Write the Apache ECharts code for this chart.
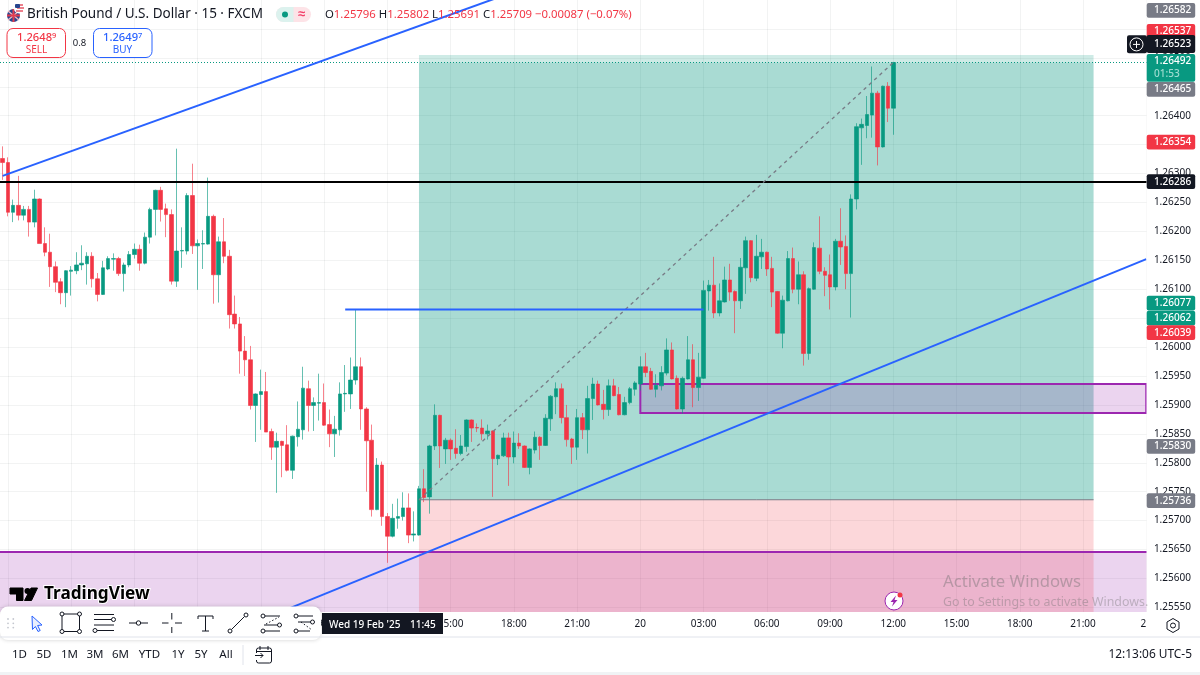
<!DOCTYPE html>
<html>
<head>
<meta charset="utf-8">
<title>GBPUSD 15</title>
<style>html,body{margin:0;padding:0;background:#fff}#chart{width:1200px;height:675px}</style>
<script src="https://cdn.jsdelivr.net/npm/echarts@6/dist/echarts.min.js"></script>
</head>
<body>
<div id="chart"></div>
<script>
// candles: [open, close, low, high], 15 minute bars from 18 Feb 17:45
var candles = [
[1.26326,1.26319,1.26289,1.26347],[1.26319,1.26233,1.26226,1.26328],[1.26233,1.26245,1.26216,1.26255],[1.26245,1.26228,1.26219,1.26296],
[1.26228,1.26238,1.26219,1.26244],[1.26238,1.26216,1.26191,1.26244],[1.26216,1.26256,1.26207,1.26272],[1.26256,1.26179,1.26179,1.26257],
[1.26179,1.26164,1.26157,1.26207],[1.26164,1.26139,1.26104,1.26196],[1.26139,1.26112,1.26095,1.26148],[1.26113,1.26094,1.26074,1.26119],
[1.26094,1.26132,1.26069,1.26133],[1.26131,1.26133,1.26089,1.26140],[1.26132,1.26142,1.26126,1.26164],[1.26142,1.26145,1.26133,1.26176],
[1.26144,1.26157,1.26108,1.26164],[1.26157,1.26118,1.26103,1.26164],[1.26118,1.26091,1.26079,1.26128],[1.26091,1.26137,1.26090,1.26149],
[1.26135,1.26153,1.26133,1.26157],[1.26152,1.26153,1.26132,1.26162],[1.26153,1.26127,1.26123,1.26156],[1.26127,1.26142,1.26096,1.26146],
[1.26142,1.26160,1.26138,1.26166],[1.26160,1.26169,1.26153,1.26179],[1.26169,1.26145,1.26132,1.26177],[1.26145,1.26190,1.26143,1.26198],
[1.26190,1.26238,1.26179,1.26241],[1.26238,1.26271,1.26193,1.26272],[1.26271,1.26238,1.26217,1.26277],[1.26239,1.26229,1.26190,1.26248],
[1.26229,1.26114,1.26108,1.26238],[1.26114,1.26166,1.26104,1.26343],[1.26166,1.26167,1.26137,1.26207],[1.26166,1.26262,1.26160,1.26266],
[1.26262,1.26175,1.26161,1.26317],[1.26175,1.26179,1.26099,1.26186],[1.26178,1.26179,1.26135,1.26202],[1.26178,1.26226,1.26177,1.26293],
[1.26226,1.26125,1.26075,1.26229],[1.26125,1.26182,1.26077,1.26191],[1.26182,1.26157,1.26145,1.26223],[1.26157,1.26056,1.26032,1.26168],
[1.26057,1.26040,1.26032,1.26089],[1.26040,1.25993,1.25954,1.26052],[1.25993,1.25978,1.25950,1.26019],[1.25978,1.25899,1.25892,1.26002],
[1.25899,1.25919,1.25836,1.25920],[1.25918,1.25923,1.25857,1.25961],[1.25923,1.25853,1.25853,1.25957],[1.25854,1.25827,1.25805,1.25859],
[1.25827,1.25837,1.25748,1.25852],[1.25837,1.25830,1.25775,1.25838],[1.25831,1.25787,1.25785,1.25865],[1.25787,1.25846,1.25772,1.25847],
[1.25845,1.25858,1.25828,1.25906],[1.25857,1.25929,1.25840,1.25966],[1.25928,1.25899,1.25854,1.25942],[1.25899,1.25904,1.25855,1.25913],
[1.25903,1.25904,1.25873,1.25954],[1.25904,1.25865,1.25864,1.25937],[1.25866,1.25850,1.25827,1.25892],[1.25850,1.25858,1.25810,1.25881],
[1.25857,1.25919,1.25847,1.25939],[1.25919,1.25920,1.25888,1.25969],[1.25919,1.25943,1.25893,1.25982],[1.25943,1.25966,1.25935,1.26064],
[1.25966,1.25893,1.25857,1.25982],[1.25893,1.25838,1.25750,1.25896],[1.25839,1.25719,1.25707,1.25866],[1.25719,1.25796,1.25718,1.25808],
[1.25796,1.25707,1.25691,1.25802],[1.25707,1.25673,1.25627,1.25713],[1.25673,1.25704,1.25671,1.25729],[1.25704,1.25707,1.25686,1.25738],
[1.25707,1.25722,1.25700,1.25749],[1.25722,1.25675,1.25661,1.25747],[1.25675,1.25677,1.25664,1.25716],[1.25675,1.25755,1.25674,1.25760],
[1.25755,1.25740,1.25732,1.25789],[1.25741,1.25829,1.25712,1.25831],[1.25829,1.25882,1.25822,1.25901],[1.25882,1.25829,1.25791,1.25883],
[1.25824,1.25839,1.25798,1.25843],[1.25839,1.25824,1.25805,1.25842],[1.25825,1.25816,1.25807,1.25858],[1.25816,1.25829,1.25813,1.25848],
[1.25828,1.25874,1.25819,1.25875],[1.25874,1.25860,1.25836,1.25875],[1.25861,1.25860,1.25853,1.25868],[1.25860,1.25850,1.25839,1.25875],
[1.25850,1.25855,1.25840,1.25866],[1.25855,1.25807,1.25741,1.25856],[1.25807,1.25813,1.25796,1.25814],[1.25812,1.25843,1.25810,1.25852],
[1.25843,1.25810,1.25760,1.25852],[1.25810,1.25834,1.25799,1.25854],[1.25834,1.25829,1.25824,1.25851],[1.25829,1.25792,1.25791,1.25830],
[1.25792,1.25824,1.25780,1.25825],[1.25822,1.25844,1.25816,1.25854],[1.25844,1.25830,1.25805,1.25846],[1.25830,1.25877,1.25829,1.25884],
[1.25876,1.25915,1.25855,1.25917],[1.25914,1.25928,1.25884,1.25939],[1.25928,1.25878,1.25868,1.25937],[1.25878,1.25840,1.25828,1.25900],
[1.25841,1.25827,1.25798,1.25843],[1.25827,1.25878,1.25805,1.25893],[1.25878,1.25857,1.25841,1.25886],[1.25857,1.25911,1.25816,1.25933],
[1.25911,1.25936,1.25874,1.25947],[1.25936,1.25900,1.25899,1.25942],[1.25901,1.25892,1.25875,1.25926],[1.25892,1.25933,1.25881,1.25944],
[1.25933,1.25916,1.25915,1.25945],[1.25918,1.25883,1.25882,1.25931],[1.25883,1.25904,1.25882,1.25914],[1.25904,1.25928,1.25901,1.25931],
[1.25927,1.25938,1.25916,1.25941],[1.25936,1.25966,1.25925,1.25984],[1.25966,1.25956,1.25948,1.25990],[1.25958,1.25927,1.25926,1.25964],
[1.25927,1.25934,1.25913,1.25953],[1.25933,1.25956,1.25925,1.25967],[1.25955,1.25995,1.25951,1.26015],[1.25995,1.25945,1.25944,1.26008],
[1.25946,1.25893,1.25892,1.25951],[1.25893,1.25946,1.25885,1.25949],[1.25945,1.25978,1.25944,1.26019],[1.25978,1.25930,1.25896,1.26005],
[1.25930,1.25948,1.25907,1.25990],[1.25946,1.26098,1.25945,1.26115],[1.26097,1.26107,1.26063,1.26116],[1.26107,1.26059,1.26050,1.26156],
[1.26059,1.26080,1.26053,1.26110],[1.26078,1.26116,1.26077,1.26139],[1.26116,1.26095,1.26080,1.26144],[1.26096,1.26080,1.26024,1.26098],
[1.26080,1.26138,1.26066,1.26154],[1.26137,1.26184,1.26092,1.26191],[1.26184,1.26120,1.26112,1.26185],[1.26119,1.26157,1.26114,1.26194],
[1.26156,1.26164,1.26135,1.26187],[1.26164,1.26135,1.26123,1.26165],[1.26136,1.26095,1.26069,1.26156],[1.26096,1.26024,1.26023,1.26097],
[1.26024,1.26081,1.25998,1.26089],[1.26080,1.26153,1.26079,1.26166],[1.26153,1.26100,1.26093,1.26172],[1.26100,1.26125,1.26074,1.26148],
[1.26125,1.25989,1.25968,1.26131],[1.25989,1.26101,1.25978,1.26103],[1.26100,1.26172,1.26099,1.26181],[1.26171,1.26131,1.26126,1.26226],
[1.26131,1.26124,1.26088,1.26138],[1.26125,1.26104,1.26065,1.26160],[1.26104,1.26183,1.26098,1.26187],[1.26183,1.26173,1.26142,1.26240],
[1.26174,1.26127,1.26100,1.26193],[1.26127,1.26256,1.26051,1.26264],[1.26256,1.26381,1.26238,1.26387],[1.26379,1.26385,1.26315,1.26395],
[1.26383,1.26402,1.26361,1.26434],[1.26401,1.26439,1.26362,1.26485],[1.26439,1.26346,1.26314,1.26443],[1.26346,1.26451,1.26345,1.26452],
[1.26451,1.26413,1.26389,1.26458],[1.26413,1.26492,1.26367,1.26493]
];

// price ticks on the right scale
var priceTicks = [1.2555,1.2560,1.2565,1.2570,1.2575,1.2580,1.2585,1.2590,1.2595,1.2600,1.2605,1.2610,1.2615,1.2620,1.2625,1.2630,1.2635,1.2640,1.2645,1.2650,1.2655];

// time scale: one slot per 15 minutes, 218 slots on screen
var slotCount = 218;
var firstDay = 18, firstHour = 17, firstMinute = 45;
var timeSlots = [];
for (var s = 0; s < slotCount; s++) {
    var mins = firstHour * 60 + firstMinute + s * 15;
    timeSlots.push({day: firstDay + Math.floor(mins / 1440), hour: Math.floor(mins / 60) % 24, minute: mins % 60});
}
var categories = timeSlots.map(function (t, i) { return String(i); });

// drawings (prices)
var supportPrice = 1.26286;
var lastPrice = 1.26492;
var targetPrice = 1.26505, entryPrice = 1.25736, stopPrice = 1.25542;
var positionStart = 79, positionEnd = 207;
var lowZoneTop = 1.25647;
var boxTop = 1.25936, boxBottom = 1.25886, boxStart = 121;
var upperTrend = [[0, 1.26296], [100, 1.26624]];
var lowerTrend = [[53, 1.25543], [217, 1.26152]];
var swingLine = [[65, 1.26065], [133, 1.26065]];
var progressLine = [[79, 1.25736], [169, 1.26492]];

// price tags on the scale
var tagTexts = ['1.26582','1.26537','1.26523','1.26492','1.26465','1.26354','1.26286','1.26077','1.26062','1.26039','1.25830','1.25736'];
var tagKinds = ['gray','red','black','green','gray','red','black','green','green','red','gray','gray'];
var tagTops = [3,24,35,54,82,134.7,174.3,295.7,310.7,325.3,439,493.3];

// header and footer text
var rangeButtons = ['1D','5D','1M','3M','6M','YTD','1Y','5Y','All'];
var rangeCenters = [19.5,44,69.5,95,120.5,149.5,178,201,226];

var UI_FONT = '"Noto Sans", sans-serif';
var DARK = '#131722', GREEN = '#089981', RED = '#f23645', BLUE = '#2962ff', PURPLE = '#9c27b0';
var tagColors = {gray: '#787b86', red: RED, black: DARK, green: GREEN};

function txt(text, x, y, size, fill, align, weight) {
    return {type: 'text', z: 120, silent: true, style: {
        text: text, x: x, y: y, fill: fill || DARK, align: align || 'left', verticalAlign: 'middle',
        font: (weight || 'normal') + ' ' + size + 'px ' + UI_FONT}};
}
function ln(x1, y1, x2, y2, color, width, dash) {
    return {type: 'line', z: 120, silent: true, shape: {x1: x1, y1: y1, x2: x2, y2: y2},
        style: {stroke: color || DARK, lineWidth: width || 1, lineDash: dash}};
}
function dot(x, y, r, fill, stroke) {
    return {type: 'circle', z: 121, silent: true, shape: {cx: x, cy: y, r: r},
        style: {fill: fill || '#fff', stroke: stroke === undefined ? DARK : stroke, lineWidth: 1}};
}
function box(x, y, w, h, r, fill, stroke, extra) {
    return {type: 'rect', z: (extra && extra.z) || 110, silent: true, shape: {x: x, y: y, width: w, height: h, r: r},
        style: Object.assign({fill: fill, stroke: stroke, lineWidth: 1}, extra && extra.style)};
}
function poly(points, fill, stroke) {
    return {type: 'polygon', z: 121, silent: true, shape: {points: points}, style: {fill: fill, stroke: stroke, lineWidth: 1}};
}

var graphics = [];
// price scale edge, hides the end of the grid
graphics.push(box(1146.5, 0, 5, 612, 0, '#fff', null, {z: 100}));
graphics.push(box(1146.5, 612, 54, 24, 0, '#fff', null, {z: 100}));

// tags
tagTexts.forEach(function (t, i) {
    var h = t === '1.26492' ? 27.7 : 14.8;
    if (tagKinds[i] === 'black') h = i === 2 ? 18 : 14.8;
    graphics.push(box(1146.7, tagTops[i], 48.5, h, 2, tagColors[tagKinds[i]], null));
    var cy = i === 3 ? tagTops[i] + 7.5 : (i === 2 ? tagTops[i] + 9.5 : tagTops[i] + 7.5);
    graphics.push(txt(t, 1154, cy, 10.1, '#fff', 'left', '500'));
});
graphics.push(txt('01:53', 1154, 74, 10.1, '#9edcd0', 'left', '500'));
graphics.push(box(1127, 35.3, 20, 18, 2, DARK, null));
graphics.push(dot(1136.5, 44.4, 6.5, 'none', '#fff'));
graphics.push(ln(1133, 44.4, 1140, 44.4, '#fff', 1), ln(1136.5, 41, 1136.5, 48, '#fff', 1));

// header
graphics.push({type: 'circle', z: 120, silent: true, shape: {cx: 13.5, cy: 15.5, r: 6.5}, style: {fill: '#27468f'}});
graphics.push(ln(8, 11, 19, 20, '#f4b6bd', 1.5), ln(8, 20, 19, 11, '#f4b6bd', 1.5), ln(7, 15.5, 20, 15.5, '#e23b4e', 2), ln(13.5, 9, 13.5, 22, '#e23b4e', 2));
graphics.push({type: 'circle', z: 120, silent: true, shape: {cx: 19, cy: 8.5, r: 5}, style: {fill: '#fff'}});
graphics.push(ln(16, 5, 23, 5, '#e23b4e', 1.3), ln(17, 8, 24, 8, '#e23b4e', 1.3), ln(16, 11, 23, 11, '#e23b4e', 1.3));
graphics.push(box(15, 4, 5, 4, 1, '#27468f', null, {z: 120}));
graphics.push(txt('British Pound / U.S. Dollar · 15 · FXCM', 27, 14.5, 13.5));
graphics.push(box(276, 7, 35, 15, 7.5, '#fde3e7', null));
graphics.push(box(276, 7, 17.5, 15, [7.5, 0, 0, 7.5], '#dcf2ee', null, {z: 111}));
graphics.push(dot(285, 14.5, 3, GREEN, null));
graphics.push(txt('≈', 301.5, 14, 13, '#f23d67', 'center', 'bold'));
graphics.push({type: 'text', z: 120, silent: true, style: {
    x: 325, y: 14.5, verticalAlign: 'middle', font: '11.35px ' + UI_FONT,
    text: '{l|O}{v|1.25796} {l|H}{v|1.25802} {l|L}{v|1.25691} {l|C}{v|1.25709} {v|−0.00087 (−0.07%)}',
    rich: {l: {fill: DARK, font: '11.35px ' + UI_FONT}, v: {fill: RED, font: '11.35px ' + UI_FONT}}}});
graphics.push(box(7, 28.5, 58.5, 29, 6, '#fff', RED));
graphics.push(txt('1.2648', 17, 37.8, 11.2, RED, 'left', '500'), txt('9', 52, 36, 7.5, RED, 'left', '500'), txt('SELL', 36.5, 50, 10, RED, 'center'));
graphics.push(txt('0.8', 79.5, 43.5, 9.5, DARK, 'center'));
graphics.push(box(93.5, 28.5, 58.5, 29, 6, '#fff', BLUE));
graphics.push(txt('1.2649', 103, 37.8, 11.2, BLUE, 'left', '500'), txt('7', 138, 36, 7.5, BLUE, 'left', '500'), txt('BUY', 122.5, 50, 10, BLUE, 'center'));

// TradingView mark
graphics.push(poly([[10, 588], [23, 588], [23, 600.5], [16.5, 600.5], [16.5, 594], [10, 594]], '#000', '#000'));
graphics.push(dot(27.5, 591, 3, '#000', null));
graphics.push(poly([[31, 588], [37.5, 588], [31.5, 600.5], [24.5, 600.5]], '#000', '#000'));
graphics.push({type: 'text', z: 120, silent: true, style: {text: 'TradingView', x: 44, y: 594.5, verticalAlign: 'middle',
    font: 'bold 17.2px ' + UI_FONT, fill: '#000', stroke: '#fff', lineWidth: 2}});

// watermark and badge
graphics.push(txt('Activate Windows', 943, 582, 16.7, 'rgba(110,110,110,0.42)'));
graphics.push(txt('Go to Settings to activate Windows.', 943, 602, 12.4, 'rgba(110,110,110,0.38)'));
graphics.push(dot(894, 601, 9, '#fff', PURPLE));
graphics.push(poly([[896, 595.5], [890.5, 602], [893.5, 602], [892, 606.5], [897.5, 600], [894.5, 600]], PURPLE, null));
graphics.push(dot(900, 595, 2.5, RED, null));

// footer
graphics.push(ln(0, 637, 1200, 637, '#e0e3eb', 1));
rangeButtons.forEach(function (b, i) { graphics.push(txt(b, rangeCenters[i], 655, 11.5, DARK, 'center')); });
graphics.push(ln(243, 645, 243, 665, '#e0e3eb', 1));
graphics.push(box(256.5, 648, 15, 15, 2, 'none', DARK, {z: 120}));
graphics.push(ln(256.5, 651.5, 271.5, 651.5, DARK, 1), ln(260, 646, 260, 650, DARK, 1), ln(268, 646, 268, 650, DARK, 1));
graphics.push(box(254, 653, 9, 7, 0, '#fff', null, {z: 121}));
graphics.push(Object.assign(ln(255, 655.5, 263, 655.5, DARK, 1), {z: 122}), Object.assign(ln(260.5, 653, 263, 655.5, DARK, 1), {z: 122}), Object.assign(ln(260.5, 658, 263, 655.5, DARK, 1), {z: 122}));
graphics.push(txt('12:13:06 UTC-5', 1192, 654.5, 11.9, DARK, 'right'));
graphics.push(box(0, 672, 1200, 3, 0, '#f0f3f5', null));
graphics.push(poly([[1173, 618.5], [1179, 622], [1179, 629], [1173, 632.5], [1167, 629], [1167, 622]], 'none', DARK));
graphics.push(dot(1173, 625.5, 2.5, 'none', DARK));

// date label on the time scale
graphics.push(box(322, 613, 121, 21, 0, DARK, null));
graphics.push(txt("Wed 19 Feb '25", 329, 625, 10, '#fff', 'left', '500'), txt('11:45', 410, 625, 10, '#fff', 'left', '500'));

// drawing toolbar
graphics.push(box(0, 606.5, 321, 33.5, 8, '#fff', null, {style: {shadowBlur: 4, shadowColor: 'rgba(0,0,0,0.18)'}}));
[[8, 619], [13.3, 619], [8, 623.3], [13.3, 623.3], [8, 627.6], [13.3, 627.6]].forEach(function (p) {
    graphics.push(dot(p[0], p[1], 0.9, '#c4c7cf', null));
});
graphics.push(poly([[32, 616], [42, 625], [37.6, 625.5], [40.2, 630.5], [38, 631.5], [35.4, 626.5], [32.5, 629.5]], '#e9effe', BLUE));
graphics.push(box(62, 614, 17.5, 17.5, 0, 'none', DARK, {z: 120}));
[[62, 614], [79.5, 614], [62, 631.5], [79.5, 631.5]].forEach(function (p) { graphics.push(dot(p[0], p[1], 2)); });
graphics.push(ln(94, 614.5, 114, 614.5), ln(94, 619.5, 112, 619.5), ln(94, 625, 114, 625), ln(97, 630.5, 114, 630.5), dot(113.5, 619.5, 2), dot(95, 630.5, 2));
graphics.push(ln(129, 623, 136, 623), ln(141, 623, 148, 623), dot(138.5, 623, 2.2));
graphics.push(ln(162, 623, 168.5, 623), ln(175, 623, 182, 623), ln(171.8, 613, 171.8, 619.5), ln(171.8, 627, 171.8, 633));
graphics.push(ln(198, 616, 213, 616), ln(198, 616, 198, 619), ln(213, 616, 213, 619), ln(205.5, 616, 205.5, 631), ln(202, 631, 209, 631));
graphics.push(ln(231.5, 629.5, 244.5, 616.5), dot(230, 631, 2), dot(246, 615, 2));
graphics.push(ln(264, 616, 280, 616), ln(264, 625, 278, 625), ln(264, 631, 280, 631), ln(266, 624, 279, 617, DARK, 1, [1.5, 2]), dot(263, 616, 2), dot(279.5, 625, 2), dot(263, 631, 2));
graphics.push(ln(298, 616, 313, 616), ln(298, 622, 312, 622), ln(298, 631, 310, 631), ln(301, 622, 312, 630, DARK, 1, [1.5, 2]), dot(296, 616, 2), dot(312.5, 622, 2), dot(296, 631, 2));

function levelSeries(name, data, color, width, type) {
    return {name: name, type: 'line', data: data, symbol: 'none', silent: true, z: 6,
        lineStyle: {color: color, width: width, type: type || 'solid', cap: 'butt'}};
}
function fullLevel(value, color, width, type) {
    return {yAxis: value, lineStyle: {color: color, width: width, type: type || 'solid'}};
}

var chart = echarts.init(document.getElementById('chart'));
chart.setOption({
    animation: false,
    backgroundColor: '#fff',
    grid: {left: 0, top: 0, width: 1148.9, height: 612, containLabel: false, outerBoundsMode: 'none'},
    xAxis: {
        type: 'category', data: categories, boundaryGap: true,
        axisLine: {show: false}, axisTick: {show: false},
        splitLine: {show: true, alignWithLabel: true, lineStyle: {color: 'rgba(42,46,57,0.06)'},
            interval: function (i) { return i % 12 === 1; }},
        axisLabel: {
            interval: function (i) { return i % 12 === 1; },
            margin: 7, color: DARK, fontSize: 10, fontFamily: UI_FONT, hideOverlap: false,
            formatter: function (v, i) {
                var t = timeSlots[i];
                if (t.hour === 0) return String(t.day);
                return (t.hour < 10 ? '0' : '') + t.hour + ':00';
            }
        }
    },
    yAxis: {
        type: 'value', position: 'right', min: stopPrice, max: 1.26600, scale: true,
        axisLine: {show: false},
        axisTick: {show: false, customValues: priceTicks},
        splitLine: {show: true, lineStyle: {color: 'rgba(42,46,57,0.06)'}},
        axisLabel: {customValues: priceTicks, margin: 5, color: DARK, fontSize: 10, fontFamily: UI_FONT,
            formatter: function (v) { return v.toFixed(5); }}
    },
    series: [
        {
            name: 'GBPUSD', type: 'candlestick', data: candles, barWidth: 4, silent: true, z: 3,
            itemStyle: {color: GREEN, color0: RED, borderColor: 'rgba(8,153,129,0.62)', borderColor0: 'rgba(242,54,69,0.62)', borderColorDoji: 'rgba(8,153,129,0.62)', borderWidth: 1},
            markArea: {
                silent: true,
                data: [
                    [{yAxis: stopPrice, itemStyle: {color: 'rgba(156,39,176,0.2)'}}, {yAxis: lowZoneTop}],
                    [{xAxis: positionStart, yAxis: lastPrice, itemStyle: {color: 'rgba(8,153,129,0.35)'}}, {xAxis: positionEnd, yAxis: entryPrice}],
                    [{xAxis: positionStart, yAxis: targetPrice, itemStyle: {color: 'rgba(8,153,129,0.2)'}}, {xAxis: positionEnd, yAxis: lastPrice}],
                    [{xAxis: positionStart, yAxis: entryPrice, itemStyle: {color: 'rgba(242,54,69,0.2)'}}, {xAxis: positionEnd, yAxis: stopPrice}],
                    [{xAxis: boxStart, yAxis: boxTop, itemStyle: {color: 'rgba(156,39,176,0.2)', borderColor: PURPLE, borderWidth: 2}}, {xAxis: slotCount - 1, yAxis: boxBottom}]
                ]
            },
            markLine: {
                silent: true, symbol: 'none', label: {show: false}, precision: 5,
                data: [
                    fullLevel(lastPrice, GREEN, 1, [1, 2]),
                    fullLevel(lowZoneTop, PURPLE, 2),
                    fullLevel(supportPrice, '#000', 2)
                ]
            }
        },
        levelSeries('entry', [[positionStart, entryPrice], [positionEnd, entryPrice]], '#787b86', 1),
        levelSeries('progress', progressLine, '#787b86', 1.3, [3.5, 3.7]),
        levelSeries('swing', swingLine, BLUE, 2),
        levelSeries('upper trend', upperTrend, BLUE, 2),
        levelSeries('lower trend', lowerTrend, BLUE, 2)
    ],
    graphic: {elements: graphics}
});
</script>
</body>
</html>
